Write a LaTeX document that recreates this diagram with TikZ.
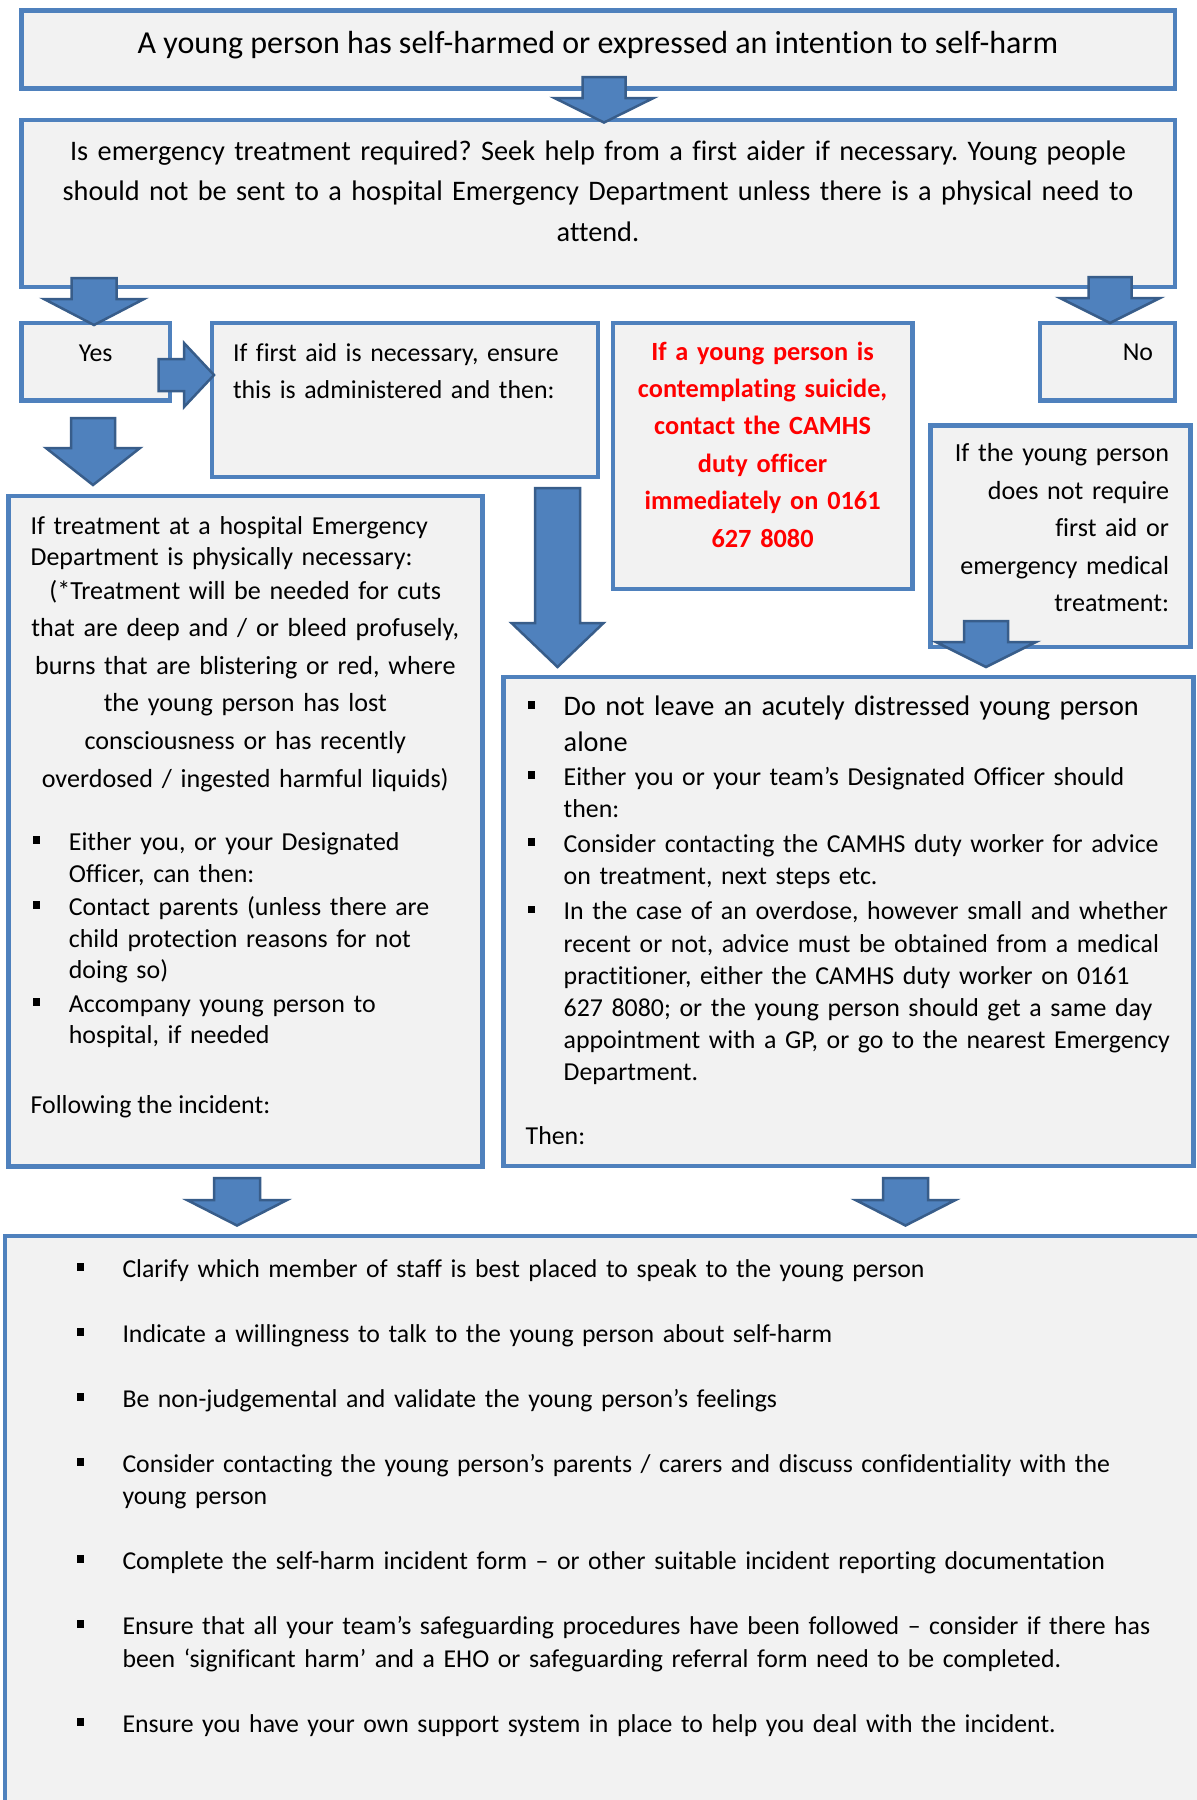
\documentclass[tikz,border=0pt]{standalone}
\usepackage{fontspec}
\setmainfont{Carlito}[Ligatures=NoCommon]
\definecolor{boxblue}{HTML}{4F81BD}
\definecolor{boxfill}{HTML}{F2F2F2}
\definecolor{arrowline}{HTML}{385D8A}
\definecolor{alertred}{HTML}{FF0000}
\newcommand\fsz[2]{\fontsize{#1pt}{#2pt}\selectfont}
\newcommand\bl[1]{\makebox[#1pt][l]{\rule[6.5pt]{7.3pt}{7.7pt}}}
\newcommand\ind[1]{\hspace*{#1pt}}
\frenchspacing
\hyphenpenalty=10000
\exhyphenpenalty=10000
\tikzset{
  panel/.style={draw=boxblue, fill=boxfill, line width=4.5pt, inner sep=0pt, outer sep=0pt},
  blockarrow/.style={fill=boxblue, draw=arrowline, line width=2.5pt, line join=miter},
  txt/.style={inner sep=0pt, outer sep=0pt, text=black},
  body/.style={txt, font=\fsz{25.8}{32.5}},
}
\newcommand\panelbox[5]{\node[panel, anchor=north west, minimum width={#4-#2}, minimum height={#5-#3}] (#1) at (#2,#3) {};}
\newcommand\dnarrow[6]{\filldraw[blockarrow] ({#1-#5},#2) -- ({#1+#5},#2) -- ({#1+#5},#3) -- ({#1+#6},#3) -- (#1,#4) -- ({#1-#6},#3) -- ({#1-#5},#3) -- cycle;}
\begin{document}
\begin{tikzpicture}[x=1pt, y=-1pt]
\useasboundingbox (0,0) rectangle (1197,1800);
\clip (0,0) rectangle (1197,1800);
\fill[white] (0,0) rectangle (1197,1800);
% boxes
\panelbox{start}{21.6}{10.5}{1175}{88.3}
\panelbox{emerg}{21.6}{120}{1175}{287}
\panelbox{yes}{21.6}{323}{170}{400.5}
\panelbox{firstaid}{212}{323}{598}{477}
\panelbox{suicide}{613}{323}{912.7}{589}
\panelbox{no}{1040}{323}{1175}{400.5}
\panelbox{notreq}{930.5}{425.3}{1190.5}{647}
\panelbox{hospital}{8.6}{496}{482.5}{1166.5}
\panelbox{distress}{503.5}{677}{1193.5}{1166}
\panelbox{after}{5}{1236}{1240}{1840}
% block arrows
\dnarrow{604}{77}{98}{122.5}{21.5}{49.5}
\dnarrow{94}{278}{299}{325}{22.5}{50}
\dnarrow{1110}{277}{298}{323}{21.5}{50}
\dnarrow{93}{418}{448}{485}{22}{47}
\dnarrow{557.5}{488}{623}{667}{22.5}{46}
\dnarrow{986}{621}{642}{667}{22}{50}
\dnarrow{237}{1178}{1200}{1225.5}{23}{50}
\dnarrow{905.5}{1178}{1200}{1225.5}{22.5}{50}
\filldraw[blockarrow] (158.5,359) -- (184,359) -- (184,343) -- (214,375) -- (184,407) -- (184,391) -- (158.5,391) -- cycle;
% texts
\node[txt, anchor=base, font=\fsz{32}{38}] (t-start) at (598,53) {A young person has self-harmed or expressed an intention to self-harm};
\node[txt, anchor=base, align=center, text width=1130pt, font=\fsz{28.3}{40.5}] (t-emerg) at (598,160)
 {Is emergency treatment required? Seek help from a first aider if necessary. Young people\\
  should not be sent to a hospital Emergency Department unless there is a physical need to\\
  attend.};
\node[body, anchor=base] (t-yes) at (95.7,361.7) {Yes};
\node[body, anchor=base east] (t-no) at (1153,360) {No};
\node[body, anchor=base west, align=left, text width=370pt, font=\fsz{25.8}{36.7}] (t-firstaid) at (233,361.7)
 {If first aid is necessary, ensure\\ this is administered and then:};
\node[body, anchor=base, align=center, text width=295pt, font=\fsz{26.3}{37.4}\bfseries, text=alertred] (t-suicide) at (762.6,360)
 {If a young person is\\ contemplating suicide,\\ contact the CAMHS\\ duty officer\\ immediately on 0161\\ 627 8080};
\node[body, anchor=base east, align=right, text width=250pt, font=\fsz{26.1}{37.5}] (t-notreq) at (1169,461.7)
 {If the young person\\ does not require\\ first aid or\\ emergency medical\\ treatment:};
% left box
\node[body, anchor=base west, align=left, text width=445pt, font=\fsz{25.9}{31.2}] (t-hospA) at (30.6,534.5)
 {If treatment at a hospital Emergency\\ Department is physically necessary:};
\node[body, anchor=base, align=center, text width=445pt, font=\fsz{26.1}{37.6}] (t-hospB) at (245.3,599)
 {(*Treatment will be needed for cuts\\ that are deep and / or bleed profusely,\\ burns that are blistering or red, where\\ the young person has lost\\ consciousness or has recently\\ overdosed / ingested harmful liquids)};
\node[body, anchor=base west, align=left, text width=445pt, font=\fsz{25.9}{31.5}] (t-hospC) at (32.5,850.5)
 {\bl{36.4}Either you, or your Designated\\ \ind{36.4}Officer, can then:\\[2pt]
  \bl{36.4}Contact parents (unless there are\\ \ind{36.4}child protection reasons for not\\ \ind{36.4}doing so)\\[2pt]
  \bl{36.4}Accompany young person to\\ \ind{36.4}hospital, if needed};
\node[body, anchor=base west, font=\fsz{25.9}{31.5}] (t-hospD) at (30.6,1113) {Following the incident:};
% middle right box
\node[body, anchor=base west, align=left, text width=720pt, font=\fsz{28.3}{35.6}] (t-distA) at (528,715.4)
 {\bl{35.7}Do not leave an acutely distressed young person\\ \ind{35.7}alone};
\node[body, anchor=base west, align=left, text width=720pt, font=\fsz{25.85}{32.2}] (t-distB) at (528,785)
 {\bl{35.7}Either you or your team’s Designated Officer should\\ \ind{35.7}then:\\[3pt]
  \bl{35.7}Consider contacting the CAMHS duty worker for advice\\ \ind{35.7}on treatment, next steps etc.\\[3pt]
  \bl{35.7}In the case of an overdose, however small and whether\\ \ind{35.7}recent or not, advice must be obtained from a medical\\
  \ind{35.7}practitioner, either the CAMHS duty worker on 0161\\ \ind{35.7}627 8080; or the young person should get a same day\\
  \ind{35.7}appointment with a GP, or go to the nearest Emergency\\ \ind{35.7}Department.};
\node[body, anchor=base west, font=\fsz{25.85}{32.2}] (t-then) at (525.7,1144) {Then:};
% bottom box
\node[body, anchor=base west, align=left, text width=1200pt, font=\fsz{25.75}{32.5}] (t-after) at (77,1277)
 {\bl{45.5}Clarify which member of staff is best placed to speak to the young person\\[32.5pt]
  \bl{45.5}Indicate a willingness to talk to the young person about self-harm\\[32.5pt]
  \bl{45.5}Be non-judgemental and validate the young person’s feelings\\[32.5pt]
  \bl{45.5}Consider contacting the young person’s parents / carers and discuss confidentiality with the\\ \ind{45.5}young person\\[32.5pt]
  \bl{45.5}Complete the self-harm incident form – or other suitable incident reporting documentation\\[32.5pt]
  \bl{45.5}Ensure that all your team’s safeguarding procedures have been followed – consider if there has\\ \ind{45.5}been ‘significant harm’ and a EHO or safeguarding referral form need to be completed.\\[32.5pt]
  \bl{45.5}Ensure you have your own support system in place to help you deal with the incident.};
\end{tikzpicture}
\end{document}
